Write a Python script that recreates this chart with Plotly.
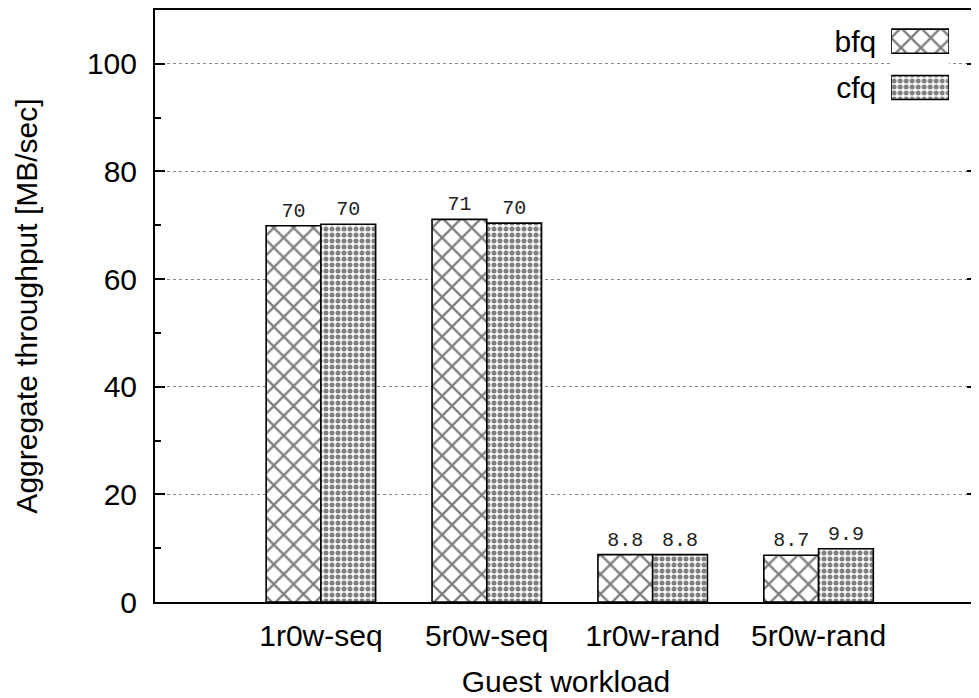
import plotly.graph_objects as go

categories = ["1r0w-seq", "5r0w-seq", "1r0w-rand", "5r0w-rand"]
bfq_values = [69.9, 71.1, 8.8, 8.7]
cfq_values = [70.2, 70.4, 8.8, 9.9]
bfq_labels = ["70", "71", "8.8", "8.7"]
cfq_labels = ["70", "70", "8.8", "9.9"]
series_names = ["bfq", "cfq"]
y_ticks = [0, 20, 40, 60, 80, 100]

BFQ_PATTERN = dict(shape="x", fgcolor="black", bgcolor="white", size=14, solidity=0.3)
CFQ_PATTERN = dict(shape=".", fgcolor="black", bgcolor="white", size=6, solidity=0.55)

label_font = dict(family="Liberation Mono, Courier New, monospace", size=20, color="#222222")

fig = go.Figure()
fig.add_trace(go.Bar(
    name=series_names[0], x=categories, y=bfq_values, text=bfq_labels,
    textposition="outside", textfont=label_font, cliponaxis=False,
    marker=dict(color="white", line=dict(color="black", width=1.6), pattern=BFQ_PATTERN),
    showlegend=False,
))
fig.add_trace(go.Bar(
    name=series_names[1], x=categories, y=cfq_values, text=cfq_labels,
    textposition="outside", textfont=label_font, cliponaxis=False,
    marker=dict(color="white", line=dict(color="black", width=1.6), pattern=CFQ_PATTERN),
    showlegend=False,
))

# Legend key (gnuplot style: label on the left, patterned swatch on the right)
fig.add_trace(go.Bar(
    x=[1] * len(series_names), y=series_names, orientation="h",
    xaxis="x2", yaxis="y2", width=0.52, hoverinfo="skip", showlegend=False,
    marker=dict(color="white", line=dict(color="black", width=1.6),
                pattern=dict(shape=[BFQ_PATTERN["shape"], CFQ_PATTERN["shape"]],
                             size=[BFQ_PATTERN["size"], CFQ_PATTERN["size"]],
                             solidity=[BFQ_PATTERN["solidity"], CFQ_PATTERN["solidity"]],
                             fgcolor="black", bgcolor="white")),
))

FONT = "Liberation Sans, Arial, Helvetica, sans-serif"

fig.update_layout(
    width=971, height=690,
    margin=dict(l=147, r=0, t=2, b=96),
    paper_bgcolor="white", plot_bgcolor="white",
    barmode="group", bargap=0.34, bargroupgap=0,
    font=dict(family=FONT, size=30, color="black"),
    showlegend=False,
    xaxis=dict(
        range=[-1, 3.955], showline=True, linecolor="black", linewidth=2,
        mirror=True, ticks="", showgrid=False, zeroline=False,
        ticklabelstandoff=6,
        title=dict(text="Guest workload", standoff=21, font=dict(size=30)),
        tickfont=dict(size=30),
    ),
    yaxis=dict(
        range=[0, 110], tickvals=y_ticks, showline=True, linecolor="black",
        linewidth=2, mirror="ticks", ticks="inside", ticklen=10, tickwidth=1.5,
        tickcolor="black", showgrid=True, gridcolor="#8a8a8a", griddash="dot",
        gridwidth=1, zeroline=False,
        ticklabelstandoff=10,
        minor=dict(dtick=10, ticks="inside", ticklen=6, tickcolor="black",
                   showgrid=False),
        title=dict(text="Aggregate throughput [MB/sec]", font=dict(size=30), standoff=40),
        tickfont=dict(size=30),
    ),
    xaxis2=dict(domain=[0.8956, 0.966], range=[0, 1], anchor="y2",
                visible=False, fixedrange=True),
    yaxis2=dict(domain=[0.830, 0.9865], anchor="x2", autorange="reversed",
                showline=False, showgrid=False, zeroline=False, ticks="",
                ticklabelstandoff=14, tickfont=dict(size=30, family=FONT),
                fixedrange=True),
)

fig.write_html("out.html")
